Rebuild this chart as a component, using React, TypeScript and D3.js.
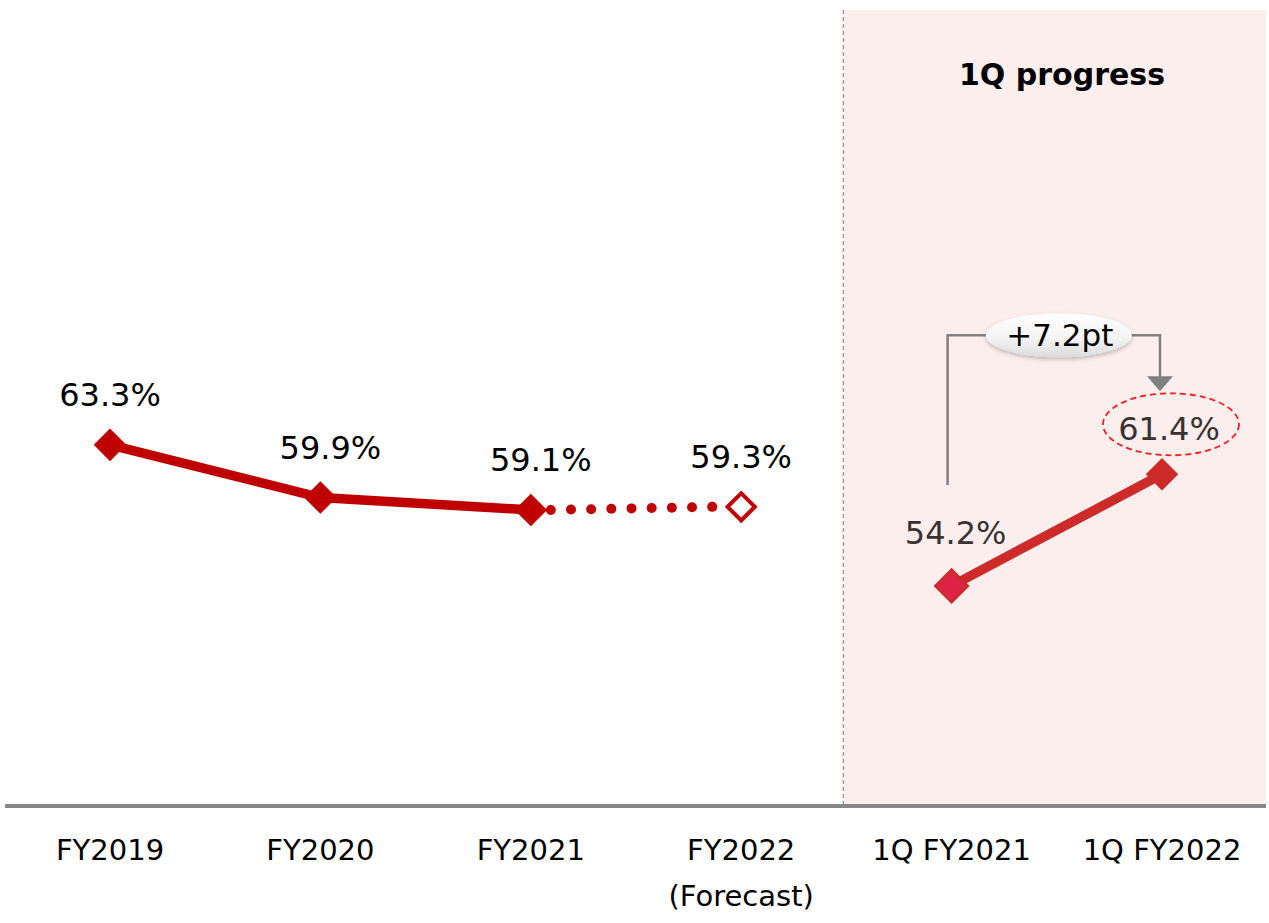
import React from "react";
import * as d3 from "d3";

// Annual ratio (FY2019–FY2021 actual, FY2022 forecast) and 1Q comparison
const categories = ["FY2019", "FY2020", "FY2021", "FY2022", "1Q FY2021", "1Q FY2022"];
const subLabels = ["", "", "", "(Forecast)", "", ""];
const annualActual = [63.3, 59.9, 59.1];
const annualForecast = 59.3;
const quarterValues = [54.2, 61.4];
const deltaLabel = "+7.2pt";
const panelTitle = "1Q progress";

const W = 1269;
const H = 923;
const FONT = "'DejaVu Sans', Verdana, sans-serif";

export default function App() {
  const x = d3.scalePoint<string>().domain(categories).range([110, 1162]);
  const y = d3.scaleLinear().domain([40, 90]).range([806, 31]);

  const fmt = (v: number) => `${v.toFixed(1)}%`;

  const actualPts = annualActual.map((v, i) => [x(categories[i])!, y(v)] as [number, number]);
  const forecastPt: [number, number] = [x(categories[3])!, y(annualForecast)];
  const quarterPts = quarterValues.map((v, i) => [x(categories[4 + i])!, y(v)] as [number, number]);

  const line = d3.line<[number, number]>();
  const diamond = d3.symbol().type(d3.symbolSquare).size(530)();
  const diamondOpen = d3.symbol().type(d3.symbolSquare).size(370)();

  // dotted connector from last actual to forecast
  const dotStart = actualPts[2][0] + 20;
  const dotEnd = forecastPt[0] - 29;
  const nDots = 9;
  const dots = d3.range(nDots).map((i) => {
    const t = i / (nDots - 1);
    return [dotStart + (dotEnd - dotStart) * t, actualPts[2][1] + (forecastPt[1] - actualPts[2][1]) * t];
  });

  const panelX = (x(categories[3])! + x(categories[4])!) / 2 - 3;
  const baseY = y(40);

  const [q0, q1] = quarterPts;
  const bracketY = y(quarterValues[1]) - 139;
  const arrowTip = y(quarterValues[1]) - 83;
  const bubbleCx = (q0[0] + q1[0]) / 2 + 2;

  const labelSize = 32;
  const catSize = 29;

  return (
    <svg width={W} height={H} style={{ display: "block", position: "absolute", left: 0, top: 0 }}>
      <defs>
        <linearGradient id="bubbleFill" x1="0" y1="0" x2="0" y2="1">
          <stop offset="0" stopColor="#ffffff" />
          <stop offset="0.55" stopColor="#f4f4f4" />
          <stop offset="1" stopColor="#dcdcdc" />
        </linearGradient>
        <filter id="softShadow" x="-20%" y="-30%" width="140%" height="170%">
          <feDropShadow dx="0" dy="2" stdDeviation="2" floodColor="#000" floodOpacity="0.25" />
        </filter>
      </defs>
      <rect width={W} height={H} fill="#ffffff" />

      {/* 1Q panel background */}
      <rect x={panelX} y={10} width={1266 - panelX} height={baseY - 10} fill="#fdeeee" />
      <line x1={panelX} x2={panelX} y1={10} y2={baseY} stroke="#8c8c8c" strokeWidth={1.2} strokeDasharray="4,3" />
      <text x={1062} y={85} textAnchor="middle" fontFamily={FONT} fontWeight="bold" fontSize={30} fill="#000">
        {panelTitle}
      </text>

      {/* baseline */}
      <line x1={5} x2={1266} y1={baseY} y2={baseY} stroke="#878787" strokeWidth={4} />

      {/* category labels */}
      {categories.map((c, i) => (
        <g key={c}>
          <text x={x(c)!} y={860} textAnchor="middle" fontFamily={FONT} fontSize={catSize} fill="#000">
            {c}
          </text>
          {subLabels[i] && (
            <text x={x(c)!} y={906} textAnchor="middle" fontFamily={FONT} fontSize={catSize} fill="#000">
              {subLabels[i]}
            </text>
          )}
        </g>
      ))}

      {/* annual series */}
      <path d={line(actualPts)!} fill="none" stroke="#c00000" strokeWidth={9.5} />
      {dots.map((d, i) => (
        <circle key={i} cx={d[0]} cy={d[1]} r={5} fill="#c00000" />
      ))}
      {actualPts.map((p, i) => (
        <path key={i} d={diamond} transform={`translate(${p[0]},${p[1]}) rotate(45)`} fill="#c00000" />
      ))}
      <path
        d={diamondOpen}
        transform={`translate(${forecastPt[0]},${forecastPt[1]}) rotate(45)`}
        fill="#ffffff"
        stroke="#c00000"
        strokeWidth={4}
      />
      {annualActual.map((v, i) => (
        <text
          key={i}
          x={actualPts[i][0] + (i === 0 ? 0 : 10)}
          y={actualPts[i][1] - 39}
          textAnchor="middle"
          fontFamily={FONT}
          fontSize={labelSize}
          fill="#000"
        >
          {fmt(v)}
        </text>
      ))}
      <text x={forecastPt[0]} y={forecastPt[1] - 39} textAnchor="middle" fontFamily={FONT} fontSize={labelSize} fill="#000">
        {fmt(annualForecast)}
      </text>

      {/* 1Q comparison */}
      <path d={line(quarterPts)!} fill="none" stroke="#cd2a2a" strokeWidth={9.5} />
      <path d={diamond} transform={`translate(${q0[0]},${q0[1]}) rotate(45)`} fill="#dc2346" stroke="#cd2a2a" strokeWidth={2.5} />
      <path d={diamond} transform={`translate(${q1[0]},${q1[1]}) rotate(45)`} fill="#cd2a2a" />
      <text x={q0[0] + 4} y={q0[1] - 42} textAnchor="middle" fontFamily={FONT} fontSize={labelSize} fill="#3a3232">
        {fmt(quarterValues[0])}
      </text>

      {/* highlighted latest value */}
      <ellipse cx={q1[0] + 9} cy={q1[1] - 50} rx={68} ry={31} fill="none" stroke="#ff1a1a" strokeWidth={1.8} strokeDasharray="6,4" />
      <text x={q1[0] + 7} y={q1[1] - 34} textAnchor="middle" fontFamily={FONT} fontSize={labelSize} fill="#3a3232">
        {fmt(quarterValues[1])}
      </text>

      {/* change bracket */}
      <path
        d={`M${q0[0] - 4},${q0[1] - 101} V${bracketY} H${q1[0] - 2} V${arrowTip - 14}`}
        fill="none"
        stroke="#808080"
        strokeWidth={2.5}
      />
      <path
        d={`M${q1[0] - 15},${arrowTip - 15} L${q1[0] + 11},${arrowTip - 15} L${q1[0] - 2},${arrowTip} Z`}
        fill="#808080"
      />
      <ellipse cx={bubbleCx} cy={bracketY} rx={73} ry={22} fill="url(#bubbleFill)" filter="url(#softShadow)" />
      <text x={bubbleCx + 1} y={bracketY + 11} textAnchor="middle" fontFamily={FONT} fontSize={31} fill="#000">
        {deltaLabel}
      </text>
    </svg>
  );
}
